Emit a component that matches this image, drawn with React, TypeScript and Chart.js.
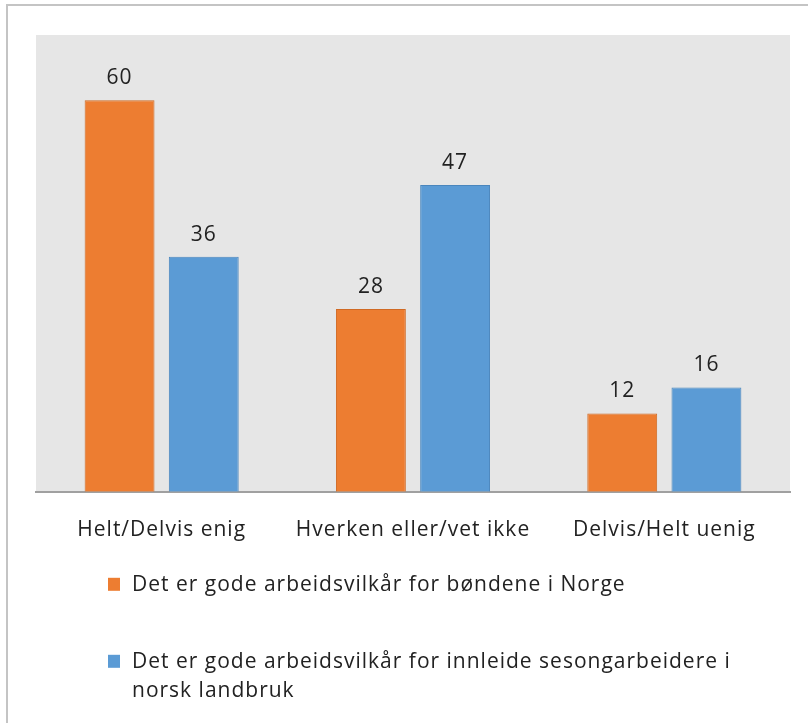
import React, { useEffect, useRef } from "react";
import { Chart, registerables } from "chart.js";

Chart.register(...registerables);

const categories = ["Helt/Delvis enig", "Hverken eller/vet ikke", "Delvis/Helt uenig"];
const seriesNames = [
  "Det er gode arbeidsvilkår for bøndene i Norge",
  "Det er gode arbeidsvilkår for innleide sesongarbeidere i norsk landbruk",
];
const farmersValues = [60, 28, 12];
const seasonalValues = [36, 47, 16];
const yMin = 0;
const yMax = 70;

const FONT_FAMILY = "'Open Sans', 'DejaVu Sans', sans-serif";
const FONT_SIZE = 21;
const LETTER_SPACING = "1px";
const TEXT_COLOR = "#222222";
const ORANGE = "#ED7D31";
const BLUE = "#5B9BD5";

const plotBackground = {
  id: "plotBackground",
  beforeDraw(chart: any) {
    const { ctx, chartArea } = chart;
    // applies to all text drawn afterwards (tick labels included)
    (ctx as any).letterSpacing = LETTER_SPACING;
    ctx.save();
    ctx.fillStyle = "#e6e6e6";
    ctx.fillRect(chartArea.left, chartArea.top, chartArea.right - chartArea.left, chartArea.bottom - chartArea.top);
    ctx.restore();
  },
};

const valueLabels = {
  id: "valueLabels",
  afterDatasetsDraw(chart: any) {
    const { ctx } = chart;
    ctx.save();
    ctx.font = `${FONT_SIZE}px ${FONT_FAMILY}`;
    (ctx as any).letterSpacing = LETTER_SPACING;
    ctx.fillStyle = TEXT_COLOR;
    ctx.textAlign = "center";
    ctx.textBaseline = "alphabetic";
    chart.data.datasets.forEach((ds: any, di: number) => {
      const meta = chart.getDatasetMeta(di);
      meta.data.forEach((el: any, i: number) => {
        ctx.fillText(String(ds.data[i]), el.x, el.y - 16);
      });
    });
    ctx.restore();
  },
};

function wrapText(ctx: CanvasRenderingContext2D, text: string, maxWidth: number): string[] {
  const words = text.split(" ");
  const lines: string[] = [];
  let cur = "";
  for (const w of words) {
    const test = cur ? cur + " " + w : w;
    if (ctx.measureText(test).width > maxWidth && cur) {
      lines.push(cur);
      cur = w;
    } else {
      cur = test;
    }
  }
  if (cur) lines.push(cur);
  return lines;
}

const customLegend = {
  id: "customLegend",
  afterDraw(chart: any) {
    const { ctx, chartArea } = chart;
    ctx.save();
    ctx.font = `${FONT_SIZE}px ${FONT_FAMILY}`;
    (ctx as any).letterSpacing = LETTER_SPACING;
    ctx.textAlign = "left";
    ctx.textBaseline = "middle";
    const markerX = 108;
    const textX = 132;
    const lineH = 29;
    const itemGap = 48;
    let y = chartArea.bottom + 93;
    chart.data.datasets.forEach((ds: any) => {
      const lines = wrapText(ctx, ds.label, 640);
      ctx.fillStyle = ds.backgroundColor;
      ctx.fillRect(markerX, y - 7, 12, 13);
      ctx.fillStyle = TEXT_COLOR;
      lines.forEach((ln, k) => {
        ctx.fillText(ln, textX, y + k * lineH);
      });
      y += (lines.length - 1) * lineH + itemGap + lineH;
    });
    ctx.restore();
  },
};

export default function App() {
  const canvasRef = useRef<HTMLCanvasElement | null>(null);

  useEffect(() => {
    if (!canvasRef.current) return;
    const chart = new Chart(canvasRef.current, {
      type: "bar",
      data: {
        labels: categories,
        datasets: [
          {
            label: seriesNames[0],
            data: farmersValues,
            backgroundColor: ORANGE,
            borderColor: "#d06a24",
            borderWidth: 1,
            categoryPercentage: 0.67,
            barPercentage: 0.83,
          },
          {
            label: seriesNames[1],
            data: seasonalValues,
            backgroundColor: BLUE,
            borderColor: "#4a86bd",
            borderWidth: 1,
            categoryPercentage: 0.67,
            barPercentage: 0.83,
          },
        ],
      },
      options: {
        animation: false,
        responsive: false,
        maintainAspectRatio: false,
        layout: { padding: { left: 36, right: 18, top: 35, bottom: 154 } },
        plugins: {
          legend: { display: false },
          tooltip: { enabled: false },
        },
        scales: {
          x: {
            grid: { display: false, drawTicks: false },
            border: { display: true, color: "#a0a0a0", width: 2 },
            ticks: {
              color: TEXT_COLOR,
              font: { family: FONT_FAMILY, size: FONT_SIZE },
              padding: 26,
              maxRotation: 0,
              autoSkip: false,
            },
          },
          y: {
            display: false,
            min: yMin,
            max: yMax,
          },
        },
      },
      plugins: [plotBackground, valueLabels, customLegend],
    });
    return () => chart.destroy();
  }, []);

  return (
    <div style={{ position: "absolute", left: 0, top: 0, width: 808, height: 723, background: "#fff", overflow: "hidden" }}>
      <div
        style={{
          position: "absolute",
          left: 6,
          top: 4,
          width: 900,
          height: 900,
          borderLeft: "2px solid #c4c4c4",
          borderTop: "2px solid #c4c4c4",
        }}
      />
      <canvas ref={canvasRef} width={808} height={723} style={{ position: "absolute", left: 0, top: 0 }} />
    </div>
  );
}
